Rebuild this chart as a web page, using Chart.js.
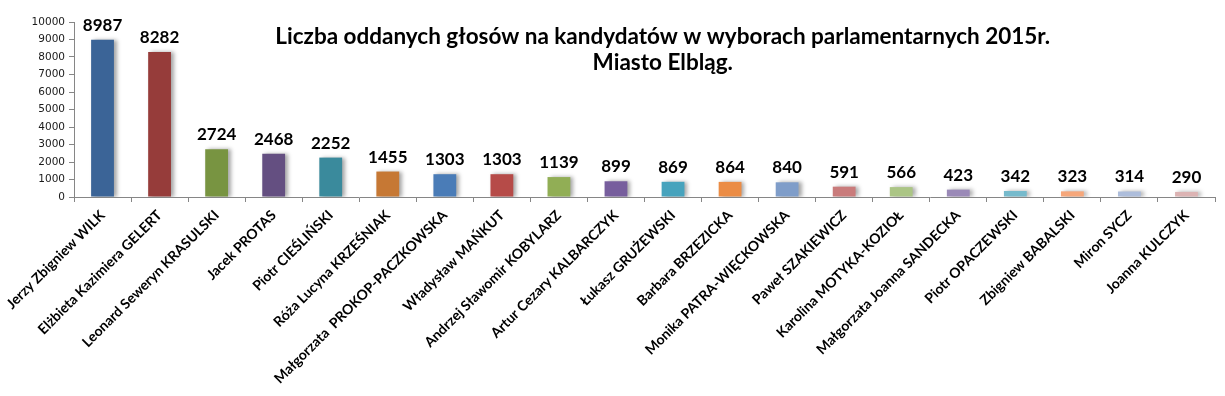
<!DOCTYPE html>
<html>
<head>
<meta charset="utf-8">
<script src="https://cdn.jsdelivr.net/npm/chart.js@4"></script>
<style>
  html, body { margin: 0; padding: 0; background: #fff; }
  #wrap { width: 1225px; height: 396px; position: relative; }
</style>
</head>
<body>
<div id="wrap"><canvas id="barChart"></canvas></div>
<script>
const candidates = [
    "Jerzy Zbigniew WILK", "Elżbieta Kazimiera GELERT", "Leonard Seweryn KRASULSKI",
    "Jacek PROTAS", "Piotr CIEŚLIŃSKI", "Róża Lucyna KRZEŚNIAK",
    "Małgorzata  PROKOP-PACZKOWSKA", "Władysław MAŃKUT", "Andrzej Sławomir KOBYLARZ",
    "Artur Cezary KALBARCZYK", "Łukasz GRUŻEWSKI", "Barbara BRZEZICKA",
    "Monika PATRA-WIĘCKOWSKA", "Paweł SZAKIEWICZ", "Karolina MOTYKA-KOZIOŁ",
    "Małgorzata Joanna SANDECKA", "Piotr OPACZEWSKI", "Zbigniew BABALSKI",
    "Miron SYCZ", "Joanna KULCZYK"
];
const votes = [8987, 8282, 2724, 2468, 2252, 1455, 1303, 1303, 1139, 899,
               869, 864, 840, 591, 566, 423, 342, 323, 314, 290];
const yTicks = [0, 1000, 2000, 3000, 4000, 5000, 6000, 7000, 8000, 9000, 10000];
const barColors = [
    '#3b6497', '#963c3a', '#789441', '#644f81', '#3a8a9c', '#c67834',
    '#4a7cb7', '#b64b48', '#91ae55', '#775e9d', '#47a3bd', '#eb8c45',
    '#7f9dc9', '#c97b7b', '#abc585', '#9a89b7', '#76bacc', '#f6a77b',
    '#adbddb', '#dcb3b3'
];
const titleLines = [
    "Liczba oddanych głosów na kandydatów w wyborach parlamentarnych 2015r.",
    "Miasto Elbląg."
];

// shadow behind the bars, a bit like the Excel look
const barShadow = {
    id: 'barShadow',
    beforeDatasetsDraw(chart) {
        const c = chart.ctx;
        c.save();
        c.shadowColor = 'rgba(0,0,0,0.35)';
        c.shadowBlur = 4;
        c.shadowOffsetX = 3;
        c.shadowOffsetY = 0;
    },
    afterDatasetsDraw(chart) {
        chart.ctx.restore();
    }
};

// value on top of every bar + the overlaid title
const valueLabels = {
    id: 'valueLabels',
    afterDraw(chart) {
        const c = chart.ctx;
        const meta = chart.getDatasetMeta(0);
        c.save();
        c.fillStyle = '#000';
        c.font = 'bold 17px Lato';
        c.textAlign = 'center';
        c.textBaseline = 'bottom';
        meta.data.forEach((bar, i) => {
            c.fillText(String(votes[i]), bar.x, bar.y - 6);
        });
        c.font = 'bold 22.5px Lato';
        c.textBaseline = 'middle';
        const cx = chart.chartArea.left + (chart.chartArea.right - chart.chartArea.left) * 0.516;
        c.fillText(titleLines[0], cx, 37);
        c.fillText(titleLines[1], cx, 63);
        c.restore();
    }
};

const ctx = document.getElementById('barChart');

new Chart(
    ctx, {
        type: 'bar',
        data: {
            labels: candidates,
            datasets: [
                {
                    label: "Głosy",
                    data: votes,
                    backgroundColor: barColors,
                    borderWidth: 0,
                    barPercentage: 0.4,
                    categoryPercentage: 1.0
                }
            ]
        },
        options: {
            responsive: true,
            maintainAspectRatio: false,
            animation: false,
            layout: { padding: { top: 22, right: 10, left: 0, bottom: 0 } },
            plugins: {
                legend: { display: false },
                tooltip: { enabled: false }
            },
            scales: {
                x: {
                    afterFit(scale) { scale.height = 199; },
                    grid: {
                        display: true,
                        drawOnChartArea: false,
                        drawTicks: true,
                        tickLength: 5,
                        color: '#868686',
                        offset: true
                    },
                    border: { color: '#868686', width: 1 },
                    ticks: {
                        autoSkip: false,
                        maxRotation: 45,
                        minRotation: 45,
                        color: '#000',
                        font: { family: 'Lato', weight: 'bold', size: 14 },
                        padding: 5
                    }
                },
                y: {
                    min: 0,
                    max: 10000,
                    afterFit(scale) { scale.width = 74; },
                    afterBuildTicks(scale) { scale.ticks = yTicks.map(v => ({ value: v })); },
                    grid: {
                        display: true,
                        drawOnChartArea: false,
                        drawTicks: true,
                        tickLength: 5,
                        color: '#868686'
                    },
                    border: { color: '#868686', width: 1 },
                    ticks: {
                        color: '#1a1a1a',
                        font: { family: 'DejaVu Sans', size: 10.5 },
                        padding: 4,
                        callback: (v) => String(v)
                    }
                }
            }
        },
        plugins: [barShadow, valueLabels]
    }
);
</script>
</body>
</html>
